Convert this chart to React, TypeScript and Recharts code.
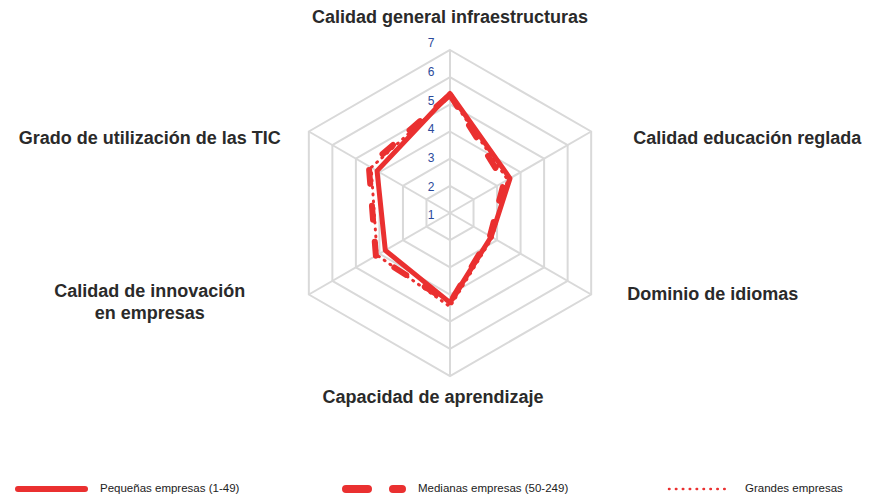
import { RadarChart, Radar, PolarGrid, PolarAngleAxis, PolarRadiusAxis } from "recharts";

const categorias = [
  "Calidad general infraestructuras",
  "Calidad educación reglada",
  "Dominio de idiomas",
  "Capacidad de aprendizaje",
  "Calidad de innovación en empresas",
  "Grado de utilización de las TIC",
];
const pequenas = [5.4, 3.55, 2.75, 4.3, 3.75, 4.1];
const medianas = [5.35, 3.3, 2.7, 4.3, 4.15, 4.45];
const grandes = [5.3, 3.45, 2.8, 4.45, 4.1, 4.35];
const ticks = [1, 2, 3, 4, 5, 6, 7];

const RED = "#ea3030";
const FONT = "'Liberation Sans', Arial, sans-serif";

const data = categorias.map((c, i) => ({
  cat: c,
  pequenas: pequenas[i],
  medianas: medianas[i],
  grandes: grandes[i],
}));

// label placement relative to the outer vertex of each spoke
const labelLayout: Record<string, { dx: number; dy: number; anchor: string; lines: string[] }> = {
  "Calidad general infraestructuras": { dx: 0, dy: -32, anchor: "middle", lines: ["Calidad general infraestructuras"] },
  "Calidad educación reglada": { dx: 42, dy: 7, anchor: "start", lines: ["Calidad educación reglada"] },
  "Dominio de idiomas": { dx: 36, dy: 0, anchor: "start", lines: ["Dominio de idiomas"] },
  "Capacidad de aprendizaje": { dx: -17, dy: 22, anchor: "middle", lines: ["Capacidad de aprendizaje"] },
  "Calidad de innovación en empresas": { dx: -159, dy: -3, anchor: "middle", lines: ["Calidad de innovación", "en empresas"] },
  "Grado de utilización de las TIC": { dx: -28, dy: 7, anchor: "end", lines: ["Grado de utilización de las TIC"] },
};

const CX = 450;
const CY = 213;
const R = 163;

function AngleTick(props: any) {
  const { payload, index } = props;
  const ang = (90 - index * 60) * (Math.PI / 180);
  const vx = CX + R * Math.cos(ang);
  const vy = CY - R * Math.sin(ang);
  const l = labelLayout[payload.value];
  return (
    <text
      x={vx + l.dx}
      y={vy + l.dy}
      textAnchor={l.anchor}
      dominantBaseline="middle"
      fontFamily={FONT}
      fontSize={18}
      fontWeight={700}
      fill="#2a2a2a"
    >
      {l.lines.map((s, i) => (
        <tspan key={i} x={vx + l.dx} dy={i === 0 ? 0 : 22}>
          {s}
        </tspan>
      ))}
    </text>
  );
}

function RadiusTick(props: any) {
  const { x, y, payload } = props;
  return (
    <text
      x={x - 19}
      y={y + 3 - (payload.value - 1) * 1.5}
      textAnchor="middle"
      dominantBaseline="middle"
      fontFamily={FONT}
      fontSize={12}
      fill="#2b4a9b"
    >
      {payload.value}
    </text>
  );
}

function LegendRow() {
  const items = [
    { x1: 18, x2: 85, tx: 100, label: "Pequeñas empresas (1-49)", dash: undefined as string | undefined, w: 6 },
    { x1: 346, x2: 402, tx: 418, label: "Medianas empresas (50-249)", dash: "22 25", w: 8 },
    { x1: 669, x2: 730, tx: 745, label: "Grandes empresas", dash: "0.5 6.4", w: 2.5 },
  ];
  return (
    <svg width={879} height={30} style={{ position: "absolute", left: 0, top: 475 }}>
      {items.map((it, i) => (
        <g key={i}>
          <line
            x1={it.x1}
            x2={it.x2}
            y1={14}
            y2={14}
            stroke={RED}
            strokeWidth={it.w}
            strokeLinecap="round"
            strokeDasharray={it.dash}
          />
          <text x={it.tx} y={14} dominantBaseline="middle" fontFamily={FONT} fontSize={11.5} fill="#222">
            {it.label}
          </text>
        </g>
      ))}
    </svg>
  );
}

export default function App() {
  return (
    <div style={{ position: "absolute", left: 0, top: 0, width: 879, height: 497, background: "#fff" }}>
      <RadarChart width={879} height={470} data={data} cx={CX} cy={CY} outerRadius={R} startAngle={90} endAngle={-270}>
        <PolarGrid gridType="polygon" stroke="#d9d9d9" strokeWidth={2} />
        <PolarAngleAxis dataKey="cat" tick={<AngleTick />} tickLine={false} axisLine={false} />
        <PolarRadiusAxis
          angle={90}
          domain={[1, 7]}
          ticks={ticks}
          tick={<RadiusTick />}
          axisLine={false}
          tickLine={false}
        />
        <Radar
          dataKey="grandes"
          stroke={RED}
          strokeWidth={3}
          strokeDasharray="1 6"
          strokeLinecap="round"
          fill="none"
          fillOpacity={0}
          isAnimationActive={false}
        />
        <Radar
          dataKey="medianas"
          stroke={RED}
          strokeWidth={6}
          strokeDasharray="14 22"
          strokeLinecap="round"
          fill="none"
          fillOpacity={0}
          isAnimationActive={false}
        />
        <Radar
          dataKey="pequenas"
          stroke={RED}
          strokeWidth={5}
          strokeLinejoin="round"
          fill="none"
          fillOpacity={0}
          isAnimationActive={false}
        />
      </RadarChart>
      <LegendRow />
    </div>
  );
}
